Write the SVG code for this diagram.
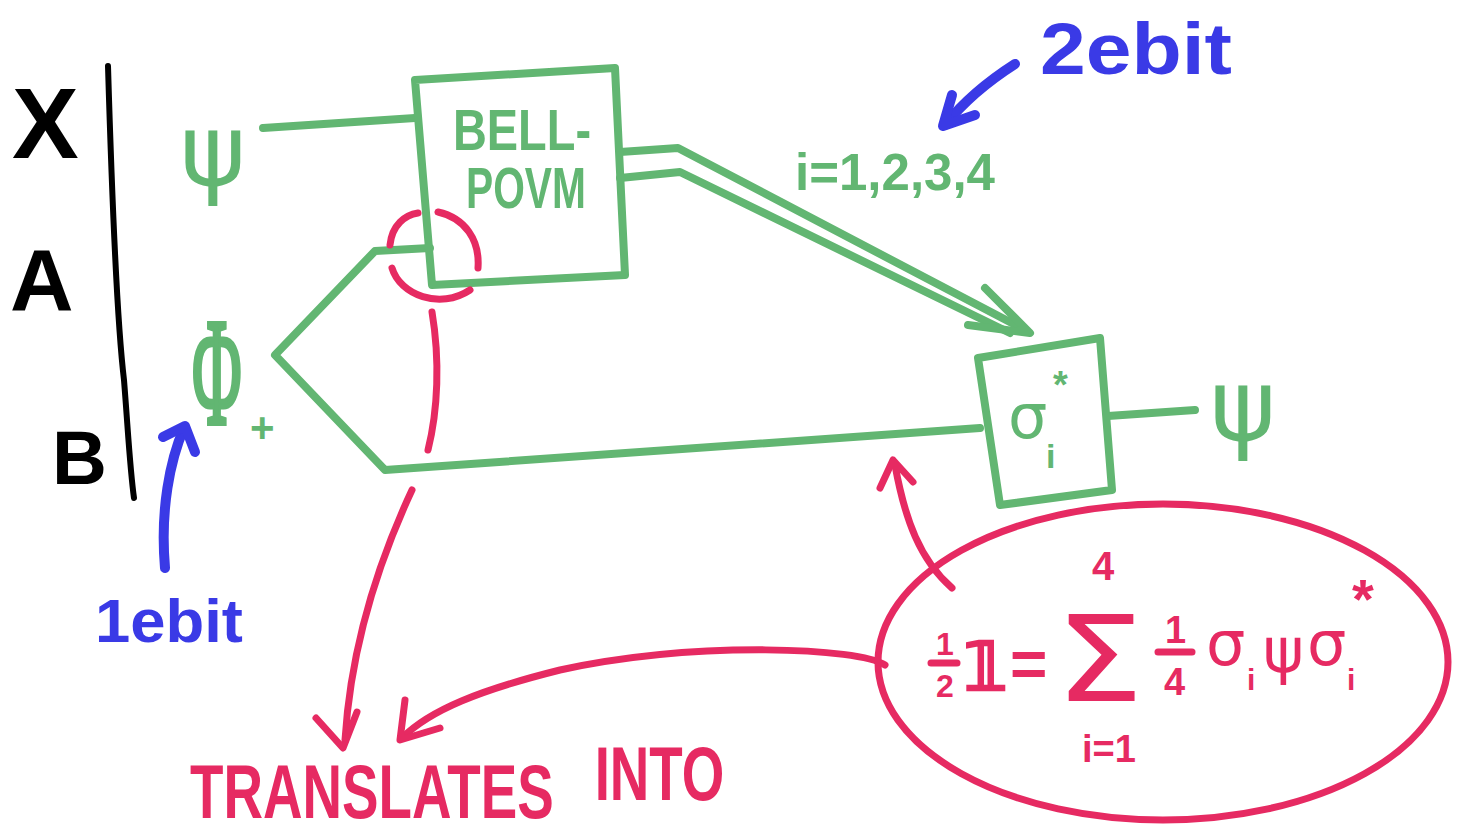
<svg xmlns="http://www.w3.org/2000/svg" width="1469" height="834" viewBox="0 0 1469 834">
<style>
.g{fill:none;stroke:#62b672;stroke-width:8;stroke-linecap:round;stroke-linejoin:round}
.p{fill:none;stroke:#e62a62;stroke-width:7;stroke-linecap:round;stroke-linejoin:round}
.b{fill:none;stroke:#3a3ae6;stroke-width:10;stroke-linecap:round;stroke-linejoin:round}
.k{fill:none;stroke:#000;stroke-width:6;stroke-linecap:round}
.tg{fill:#62b672;font-family:"Liberation Sans",sans-serif;font-weight:bold}
.tp{fill:#e62a62;font-family:"Liberation Sans",sans-serif;font-weight:bold}
.tb{fill:#3a3ae6;font-family:"Liberation Sans",sans-serif;font-weight:bold}
.tk{fill:#000;font-family:"Liberation Sans",sans-serif;font-weight:bold}
.sym{font-family:"DejaVu Sans","Noto Sans",sans-serif;font-weight:normal}
</style>
<rect width="1469" height="834" fill="#fff"/>

<g id="parties">
<path class="k" d="M108,66 C112,200 118,330 124,380 C128,430 130,470 134,498"/>
<text class="tk" x="12" y="158" font-size="100">X</text>
<text class="tk" x="10" y="310" font-size="88">A</text>
<text class="tk" x="52" y="484" font-size="76">B</text>
</g>

<g id="connectors">
<path class="g" d="M263,128 L415,118"/>
<path class="g" d="M430,248 L375,251 L275,355 L385,470 L980,428"/>
<path class="g" d="M620,152 L678,148 L1025,330"/>
<path class="g" d="M620,178 L680,172 L1010,333"/>
<path class="g" d="M985,288 L1030,333 L968,325"/>
<path class="g" d="M1108,416 L1195,410"/>
<path class="p" d="M432,312 C440,360 438,410 428,450"/>
<path class="p" d="M412,490 C370,580 350,660 345,740"/>
<path class="p" d="M316,718 L343,748 L357,712"/>
<path class="p" d="M885,665 C860,648 700,640 560,670 C480,690 430,710 402,738"/>
<path class="p" d="M405,700 L400,740 L440,728"/>
<path class="p" d="M952,588 C920,560 905,520 895,465"/>
<path class="p" d="M880,488 L893,460 L913,482"/>
<path class="b" d="M1015,64 C990,80 965,100 945,125"/>
<path class="b" d="M952,95 L943,126 L975,115"/>
<path class="b" d="M165,568 C160,510 170,460 184,428"/>
<path class="b" d="M163,437 L185,426 L195,452"/>
</g>

<g id="bell-povm">
<path class="g" d="M415,80 L615,68 L625,275 L432,285 Z"/>
<text class="tg" x="453" y="150" font-size="58" textLength="138" lengthAdjust="spacingAndGlyphs">BELL-</text>
<text class="tg" x="466" y="208" font-size="58" textLength="120" lengthAdjust="spacingAndGlyphs">POVM</text>
</g>

<g id="pink-circle">
<path class="p" d="M390,245 C392,225 405,215 418,213"/>
<path class="p" d="M438,212 C465,218 480,240 478,268"/>
<path class="p" d="M392,268 C400,295 440,310 470,290"/>
</g>

<g id="psi-in">
<text class="tg sym" x="180" y="185" font-size="100">ψ</text>
</g>

<g id="phi-plus">
<text class="tg" transform="translate(192,424) scale(0.85,1.9)" font-size="80" style="font-family:'Liberation Serif',serif;font-weight:normal;stroke:#62b672;stroke-width:2.5">Φ</text>
<text class="tg" x="250" y="442" font-size="42">+</text>
</g>

<g id="label-i">
<text class="tg" x="795" y="190" font-size="52" textLength="200" lengthAdjust="spacingAndGlyphs">i=1,2,3,4</text>
</g>

<g id="label-2ebit">
<text class="tb" x="1040" y="74" font-size="72" textLength="192" lengthAdjust="spacingAndGlyphs">2ebit</text>
</g>

<g id="label-1ebit">
<text class="tb" x="95" y="642" font-size="62" textLength="148" lengthAdjust="spacingAndGlyphs">1ebit</text>
</g>

<g id="sigma-box">
<path class="g" d="M978,358 L1100,338 L1112,490 L1000,505 Z"/>
<text class="tg"><tspan class="sym" x="1008" y="438" font-size="62">σ</tspan><tspan x="1046" y="468" font-size="34">i</tspan><tspan x="1053" y="398" font-size="38">*</tspan></text>
</g>

<g id="psi-out">
<text class="tg sym" x="1210" y="440" font-size="100">ψ</text>
</g>

<g id="formula">
<ellipse class="p" cx="1163" cy="662" rx="285" ry="158"/>
<path class="p" d="M931,663 L957,663" stroke-width="5"/>
<path class="p" d="M1158,652 L1192,652" stroke-width="5"/>
<text class="tp sym" transform="translate(1055,701) scale(1.4,1.2)" font-size="100">Σ</text>
<text class="tp"><tspan x="936" y="655" font-size="32">1</tspan><tspan x="936" y="697" font-size="32">2</tspan><tspan class="sym" x="962" y="690" font-size="68" style="font-weight:bold;stroke:#e62a62;stroke-width:2.5">𝟙</tspan><tspan x="1010" y="686" font-size="64">=</tspan><tspan x="1092" y="580" font-size="40">4</tspan><tspan x="1082" y="762" font-size="38">i=1</tspan><tspan x="1165" y="643" font-size="38">1</tspan><tspan x="1164" y="695" font-size="38">4</tspan><tspan class="sym" x="1206" y="665" font-size="62">σ</tspan><tspan x="1247" y="690" font-size="30">i</tspan><tspan class="sym" x="1263" y="672" font-size="62">ψ</tspan><tspan class="sym" x="1307" y="665" font-size="62">σ</tspan><tspan x="1347" y="690" font-size="30">i</tspan><tspan x="1352" y="618" font-size="56">*</tspan></text>
</g>

<g id="translates">
<text class="tp" transform="translate(190,0) scale(0.72,1)" font-size="76"><tspan x="0" y="818">TRANSLATES</tspan><tspan x="562" y="800" font-size="76">INTO</tspan></text>
</g>
</svg>
